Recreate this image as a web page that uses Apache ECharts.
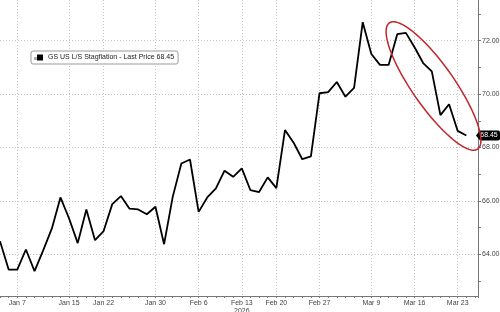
<!DOCTYPE html>
<html><head><meta charset="utf-8">
<script src="https://cdn.jsdelivr.net/npm/echarts@6/dist/echarts.min.js"></script>
<style>html,body{margin:0;padding:0;background:#fff}#c{width:500px;height:312px}</style>
</head><body><div id="c"></div>
<script>
const dates = ['Jan 5','Jan 6','Jan 7','Jan 8','Jan 9','Jan 12','Jan 13','Jan 14','Jan 15','Jan 16',
  'Jan 20','Jan 21','Jan 22','Jan 23','Jan 26','Jan 27','Jan 28','Jan 29','Jan 30','Feb 2',
  'Feb 3','Feb 4','Feb 5','Feb 6','Feb 9','Feb 10','Feb 11','Feb 12','Feb 13','Feb 17',
  'Feb 18','Feb 19','Feb 20','Feb 23','Feb 24','Feb 25','Feb 26','Feb 27','Mar 2','Mar 3',
  'Mar 4','Mar 5','Mar 6','Mar 9','Mar 10','Mar 11','Mar 12','Mar 13','Mar 16','Mar 17',
  'Mar 18','Mar 19','Mar 20','Mar 23','Mar 24'];
const values = [64.49,63.43,63.43,64.18,63.37,64.15,64.96,66.13,65.34,64.42,
  65.68,64.53,64.87,65.88,66.18,65.71,65.68,65.50,65.78,64.38,
  66.15,67.40,67.55,65.59,66.13,66.47,67.13,66.90,67.22,66.40,
  66.33,66.88,66.48,68.65,68.18,67.56,67.67,70.03,70.07,70.45,
  69.90,70.23,72.69,71.50,71.09,71.09,72.24,72.29,71.75,71.16,
  70.85,69.21,69.62,68.62,68.45];
const xLabelDates = ['Jan 7','Jan 15','Jan 22','Jan 30','Feb 6','Feb 13','Feb 20','Feb 27','Mar 9','Mar 16','Mar 23'];
const yearLabels = {'Feb 13': '2026'};
const yLabelValues = [64, 66, 68, 70, 72];
const yTickValues = [63, 64, 65, 66, 67, 68, 69, 70, 71, 72, 73];
const seriesName = 'GS US L/S Stagflation - Last Price';

const FONT = "'Liberation Sans Narrow', 'Arial Narrow', 'Liberation Sans', Arial, sans-serif";
const xLabelIdx = xLabelDates.map(d => dates.indexOf(d));
const lastValue = values[values.length - 1];
const X_MAX = 55.35, Y_MIN = 62.44, Y_MAX = 73.52;

// red annotation ellipse (pixel space)
function ellipsePts(cx, cy, a, b, deg) {
  const r = deg * Math.PI / 180, pts = [];
  for (let k = 0; k < 90; k++) {
    const t = k / 90 * Math.PI * 2;
    const x = a * Math.cos(t), y = b * Math.sin(t);
    pts.push([cx + x * Math.cos(r) - y * Math.sin(r), cy + x * Math.sin(r) + y * Math.cos(r)]);
  }
  return pts;
}

const chart = echarts.init(document.getElementById('c'), null, {renderer: 'canvas'});
const grid = '#c4c4c4';
chart.setOption({
  animation: false,
  backgroundColor: '#fff',
  textStyle: {fontFamily: FONT},
  grid: {left: 0, right: 22, top: 0, bottom: 16, containLabel: false, outerBoundsMode: 'none'},
  legend: {
    left: 31, top: 51,
    padding: [3, 4, 3, 6],
    borderColor: '#9a9a9a', borderWidth: 1, borderRadius: 2,
    backgroundColor: '#fff',
    icon: 'rect', itemWidth: 6, itemHeight: 6,
    textStyle: {fontFamily: FONT, fontSize: 7, color: '#222'},
    formatter: name => name + ' ' + lastValue.toFixed(2),
    data: [seriesName]
  },
  xAxis: [{
    type: 'value', min: 0, max: X_MAX, interval: 1, position: 'bottom',
    axisLine: {show: true, onZero: false, lineStyle: {color: '#777', width: 1}},
    axisTick: {show: true, length: 2, lineStyle: {color: '#777'}},
    splitLine: {show: false},
    axisLabel: {
      margin: 3, fontFamily: FONT, fontSize: 7, color: '#444', lineHeight: 8,
      showMinLabel: true, showMaxLabel: true,
      formatter: v => {
        const i = Math.round(v);
        if (Math.abs(v - i) > 1e-6 || xLabelIdx.indexOf(i) < 0) return '';
        const d = dates[i];
        return yearLabels[d] ? d + '\n' + yearLabels[d] : d;
      }
    }
  }, {
    type: 'value', min: 0, max: X_MAX, position: 'top',
    axisLine: {show: false, onZero: false}, axisLabel: {show: false},
    axisTick: {show: false, customValues: xLabelIdx},
    splitLine: {show: true, lineStyle: {color: grid, type: [1, 2], width: 1}}
  }],
  yAxis: [{
    type: 'value', position: 'right', min: Y_MIN, max: Y_MAX,
    axisLine: {show: true, onZero: false, lineStyle: {color: '#777', width: 1}},
    axisTick: {show: true, length: 3, inside: false, customValues: yTickValues, lineStyle: {color: '#777'}},
    axisLabel: {show: true, margin: 4, fontFamily: FONT, fontSize: 7, color: '#444',
      customValues: yLabelValues, formatter: v => Number(v).toFixed(2)},
    splitLine: {show: false}
  }, {
    type: 'value', position: 'left', min: Y_MIN, max: Y_MAX,
    axisLine: {show: false, onZero: false}, axisLabel: {show: false},
    axisTick: {show: false, customValues: yLabelValues},
    splitLine: {show: true, lineStyle: {color: grid, type: [1, 2], width: 1}}
  }],
  series: [{
    name: seriesName, type: 'line', xAxisIndex: 0, yAxisIndex: 0,
    data: values.map((v, i) => [i, v]),
    showSymbol: false, symbol: 'none',
    itemStyle: {color: '#000'},
    lineStyle: {color: '#000', width: 1.8},
    z: 5,
    markPoint: {
      silent: true,
      symbol: 'path://M0,5 L4,0 L22,0 Q24,0 24,2 L24,8 Q24,10 22,10 L4,10 Z',
      symbolSize: [24, 10], symbolKeepAspect: false,
      symbolOffset: [10, 0],
      itemStyle: {color: '#000'},
      label: {show: true, position: 'inside', color: '#fff', fontFamily: FONT, fontSize: 7,
        offset: [1, 0], formatter: () => lastValue.toFixed(2)},
      data: [{coord: [X_MAX, lastValue]}]
    }
  }],
  graphic: [
    {type: 'rect', left: 34, top: 57, shape: {width: 3, height: 3}, style: {fill: '#b0b0b0'}, z: 100},
    {type: 'polygon', shape: {points: ellipsePts(433.5, 86, 77, 21, 55)},
      style: {fill: 'none', stroke: '#c0262c', lineWidth: 1.5}, z: 50}
  ]
});
</script>
</body></html>
